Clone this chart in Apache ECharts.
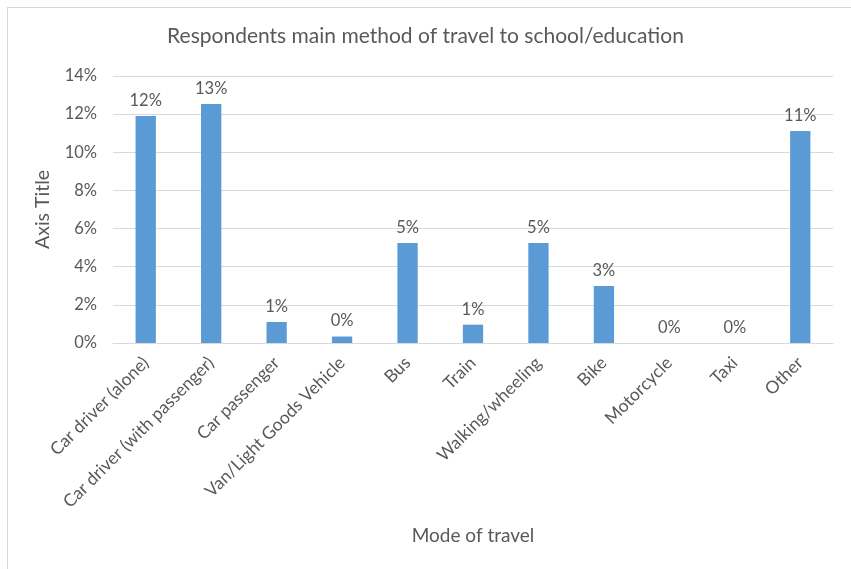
<!DOCTYPE html>
<html>
<head>
<meta charset="utf-8">
<script src="https://cdn.jsdelivr.net/npm/echarts@6/dist/echarts.min.js"></script>
<style>
  html, body { margin: 0; padding: 0; background: #fff; }
  #frame { position: absolute; left: 7px; top: 7px; width: 850px; height: 570px; border: 1px solid #D9D9D9; box-sizing: border-box; }
  #chart { position: absolute; left: 0; top: 0; width: 851px; height: 569px; }
</style>
</head>
<body>
<div id="frame"></div>
<div id="chart"></div>
<script>
const categories = ['Car driver (alone)', 'Car driver (with passenger)', 'Car passenger', 'Van/Light Goods Vehicle', 'Bus', 'Train', 'Walking/wheeling', 'Bike', 'Motorcycle', 'Taxi', 'Other'];
const shares = [11.9, 12.53, 1.1, 0.34, 5.24, 0.96, 5.24, 2.99, 0, 0, 11.12];
const yTicks = { min: 0, max: 14, interval: 2 };

const font = 'Lato, "Open Sans", sans-serif';
const grey = '#595959';

const chart = echarts.init(document.getElementById('chart'));
chart.setOption({
  animation: false,
  title: {
    text: 'Respondents main method of travel to school/education',
    left: 'center',
    top: 21,
    textStyle: { color: grey, fontFamily: font, fontSize: 21, fontWeight: 'normal' }
  },
  grid: { left: 113, right: 18, top: 76, bottom: 226 },
  xAxis: {
    type: 'category',
    data: categories,
    name: 'Mode of travel',
    nameLocation: 'middle',
    nameGap: 183,
    nameTextStyle: { color: grey, fontFamily: font, fontSize: 19 },
    axisLine: { lineStyle: { color: '#D9D9D9', width: 1 } },
    axisTick: { show: false },
    axisLabel: { rotate: 45, color: grey, fontFamily: font, fontSize: 17.5, margin: 17, interval: 0 }
  },
  yAxis: {
    type: 'value',
    min: yTicks.min,
    max: yTicks.max,
    interval: yTicks.interval,
    name: 'Axis Title',
    nameLocation: 'middle',
    nameGap: 60,
    nameTextStyle: { color: grey, fontFamily: font, fontSize: 19.5 },
    axisLine: { show: false },
    axisTick: { show: false },
    axisLabel: { color: grey, fontFamily: font, fontSize: 16.5, margin: 16, formatter: '{value}%' },
    splitLine: { lineStyle: { color: '#D9D9D9', width: 1 } }
  },
  series: [{
    type: 'bar',
    data: shares,
    barWidth: '31%',
    itemStyle: { color: '#5B9BD5' },
    label: {
      show: true,
      position: 'top',
      distance: 7,
      color: grey,
      fontFamily: font,
      fontSize: 16.5,
      formatter: p => Math.round(p.value) + '%'
    }
  }]
});
</script>
</body>
</html>
